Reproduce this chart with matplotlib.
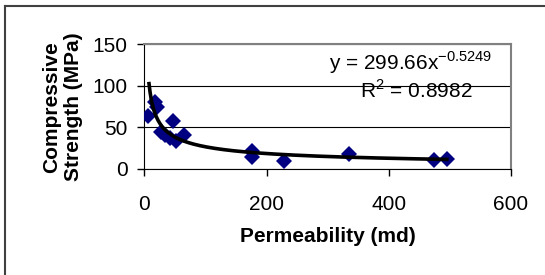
import matplotlib
matplotlib.use('Agg')
import matplotlib.pyplot as plt
from matplotlib.lines import Line2D
import numpy as np

# --- Datos ---
permeability = [6.6, 17.5, 20.3, 26.8, 33.9, 42, 47.5, 51.9, 65, 177, 177, 229, 335.5, 474, 495]
strength = [64, 80, 75, 45, 41, 37, 58, 34, 41, 22, 15, 10, 17.6, 10.8, 11.7]

# Línea de tendencia (potencial) según la ecuación mostrada
coef_a = 299.66
coef_b = -0.5249
r_squared = 0.8982
trend_start, trend_end = 7.7, 495

x_ticks = [0, 200, 400, 600]
y_ticks = [0, 50, 100, 150]

plt.rcParams['font.family'] = ['Liberation Sans', 'DejaVu Sans']
plt.rcParams['mathtext.fontset'] = 'custom'
plt.rcParams['mathtext.rm'] = 'Liberation Sans'
plt.rcParams['axes.unicode_minus'] = False

FS = 15

fig = plt.figure(figsize=(5.45, 2.75), dpi=100)
fig.patch.set_facecolor('white')
ax = fig.add_axes([0.2648, 0.3855, 0.6728, 0.4535])

# Marco exterior (solo arriba e izquierda, el resto queda fuera del recorte)
fig.add_artist(Line2D([4.5 / 545, 1.0], [1 - 5.5 / 275] * 2, color='#404040', linewidth=1.5))
fig.add_artist(Line2D([4.5 / 545] * 2, [0.0, 1 - 5.5 / 275], color='#404040', linewidth=1.5))

# Puntos
ax.plot(permeability, strength, linestyle='none', marker='D', markersize=8,
        color='#000080', markeredgewidth=0, zorder=3)

# Tendencia
xt = np.linspace(trend_start, trend_end, 300)
ax.plot(xt, coef_a * xt ** coef_b, color='black', linewidth=2.6, zorder=4)

ax.set_xlim(x_ticks[0], x_ticks[-1])
ax.set_ylim(y_ticks[0], y_ticks[-1])
ax.set_xticks(x_ticks)
ax.set_yticks(y_ticks)
ax.tick_params(axis='both', direction='out', length=5, width=1, color='black', labelsize=FS)
ax.tick_params(axis='x', pad=14)
ax.tick_params(axis='y', pad=7)

# Bordes: grises arriba/derecha, negros en los ejes
ax.spines['top'].set_color('#808080')
ax.spines['right'].set_color('#808080')
ax.spines['top'].set_linewidth(1.5)
ax.spines['right'].set_linewidth(1.5)
ax.spines['left'].set_color('black')
ax.spines['bottom'].set_color('black')

# Grid horizontal negro
ax.grid(True, axis='y', color='black', linewidth=0.8)
ax.set_axisbelow(True)

ax.set_xlabel('Permeability (md)', fontsize=FS, fontweight='bold', labelpad=9)
ax.set_ylabel('Compressive\nStrength (MPa)', fontsize=FS, fontweight='bold',
              linespacing=1.2, labelpad=7)

# Ecuación y R²
ax.text(0.95, 0.794, 'y = %.2fx$^{\\mathregular{%.4f}}$' % (coef_a, coef_b),
        transform=ax.transAxes, ha='right', va='baseline', fontsize=FS)
ax.text(0.743, 0.567, 'R$^{\\mathregular{2}}$ = %.4f' % r_squared,
        transform=ax.transAxes, ha='center', va='baseline', fontsize=FS)

plt.savefig('out.png', dpi=100, facecolor='white')
plt.close()
